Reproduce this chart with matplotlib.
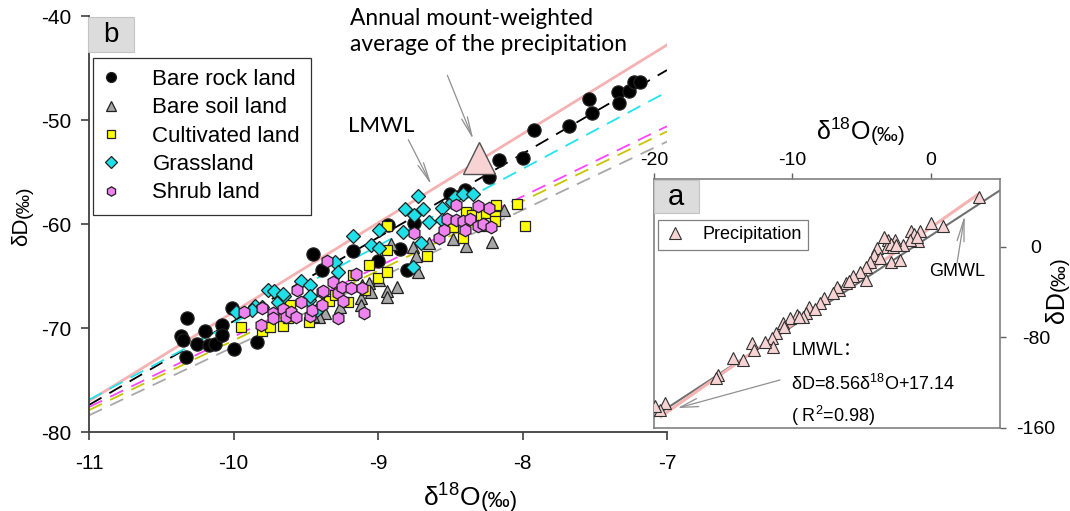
import matplotlib
matplotlib.use('Agg')
import matplotlib.pyplot as plt
from matplotlib.patches import Rectangle
import numpy as np

plt.rcParams['font.family'] = ['Liberation Sans', 'DejaVu Sans']
plt.rcParams['mathtext.fontset'] = 'custom'
plt.rcParams['mathtext.rm'] = 'Liberation Sans'
plt.rcParams['mathtext.it'] = 'Liberation Sans:italic'
plt.rcParams['mathtext.bf'] = 'Liberation Sans:bold'
plt.rcParams['axes.unicode_minus'] = False

# ---------------- data: panel b (soil water) ----------------
rock_x = [-10.32, -10.36, -10.35, -10.33, -10.25, -10.20, -10.17, -10.13, -10.08, -10.08,
          -10.00, -10.01, -9.84, -9.45, -9.39, -9.17, -9.00, -8.93, -8.75, -8.80,
          -8.85, -8.50, -8.40, -8.23, -8.16, -8.00, -7.92, -7.68, -7.54, -7.52,
          -7.34, -7.33, -7.26, -7.23, -7.19]
rock_y = [-69.0, -70.8, -71.2, -72.8, -71.5, -70.3, -71.6, -71.5, -69.7, -70.7,
          -72.0, -68.1, -71.3, -62.9, -64.4, -62.6, -63.6, -60.1, -59.9, -64.4,
          -62.4, -57.1, -56.7, -55.5, -53.8, -53.7, -51.0, -50.6, -48.0, -49.3,
          -47.3, -48.4, -47.2, -46.3, -46.3]

soil_x = [-8.91, -8.76, -8.74, -8.72, -8.65, -8.48, -8.39, -8.21, -8.13, -8.28,
          -9.11, -9.06, -8.99, -8.94, -8.94, -8.87, -9.12, -9.12, -9.26, -9.37,
          -9.41, -9.45, -9.05]
soil_y = [-61.9, -62.2, -63.1, -64.6, -61.8, -61.4, -62.1, -61.7, -58.7, -60.1,
          -65.9, -65.7, -65.4, -66.4, -67.0, -66.1, -67.1, -67.8, -68.0, -68.6,
          -68.9, -68.8, -66.5]

cult_x = [-9.95, -9.80, -9.75, -9.66, -9.62, -9.61, -9.48, -9.34, -9.30, -9.21,
          -9.17, -9.09, -9.06, -9.00, -8.94, -8.94, -8.94, -8.66, -8.48, -8.41,
          -8.39, -8.35, -8.29, -8.25, -8.19, -8.19, -8.18, -8.04, -7.98]
cult_y = [-69.9, -70.3, -69.9, -69.8, -69.0, -67.8, -69.4, -67.4, -66.8, -67.5,
          -64.9, -66.3, -63.9, -65.2, -62.5, -60.2, -64.6, -63.1, -60.3, -61.3,
          -58.8, -59.1, -59.2, -58.9, -59.2, -59.7, -58.2, -58.1, -60.2]

grass_x = [-9.98, -9.85, -9.80, -9.87, -9.76, -9.72, -9.69, -9.65, -9.53, -9.47,
           -9.48, -9.42, -9.30, -9.28, -9.17, -9.05, -8.99, -8.99, -8.83, -8.81,
           -8.75, -8.69, -8.72, -8.65, -8.70, -8.76, -8.56, -8.56, -8.49, -8.47,
           -8.41, -8.34, -9.66, -9.47]
grass_y = [-68.5, -67.9, -68.0, -68.3, -66.3, -66.4, -67.5, -66.9, -65.5, -65.9,
           -67.3, -68.3, -63.7, -64.6, -61.2, -62.0, -60.6, -62.3, -60.8, -58.6,
           -59.1, -58.6, -57.3, -59.8, -61.8, -64.1, -58.5, -59.6, -57.9, -57.4,
           -57.1, -57.1, -66.7, -66.9]

shrub_x = [-9.93, -9.80, -9.81, -9.73, -9.73, -9.66, -9.64, -9.60, -9.57, -9.56,
           -9.53, -9.47, -9.46, -9.39, -9.39, -9.38, -9.35, -9.31, -9.28, -9.28,
           -9.25, -9.24, -9.19, -9.15, -9.11, -9.10, -8.75, -8.58, -8.54, -8.52,
           -8.46, -8.46, -8.41, -8.40, -8.36, -8.31, -8.27, -8.23, -8.22, -8.31]
shrub_y = [-68.5, -68.1, -69.7, -68.6, -69.0, -68.2, -68.9, -68.5, -68.9, -66.3,
           -67.5, -68.8, -68.3, -66.5, -67.8, -66.4, -63.6, -65.6, -69.0, -66.6,
           -66.1, -67.4, -66.2, -64.8, -66.2, -68.6, -60.9, -61.3, -60.6, -59.5,
           -59.6, -58.2, -59.7, -60.6, -59.5, -60.2, -60.0, -58.5, -60.3, -58.3]

# annual amount-weighted precipitation mean
amw_x = [-8.30]
amw_y = [-53.7]

# regression lines (slope, intercept)
lmwl = (8.56, 17.14)
gmwl = (8.0, 10.0)
fit_rock = (8.05, 11.15)
fit_grass = (7.40, 4.50)
fit_shrub = (6.75, -3.35)
fit_cult = (6.70, -4.20)
fit_soil = (6.58, -6.02)

# ---------------- data: panel a (precipitation) ----------------
prec_x = [3.5, 0.85, 0.0, -0.8, -1.4, -1.2, -0.9, -1.5, -2.0, -2.6,
          -3.1, -3.2, -2.7, -3.9, -4.1, -3.7, -2.9, -2.2, -4.4, -4.7,
          -5.1, -4.7, -5.6, -6.1, -6.6, -6.8, -7.1, -7.7, -8.0, -8.8,
          -9.0, -9.2, -9.7, -10.2, -10.7, -10.6, -11.2, -11.5, -11.4, -12.0,
          -12.9, -12.8, -13.6, -14.3, -15.4, -15.5, -19.2, -19.6, -19.9,
          -2.9, -2.5, -3.4, -1.0, -5.9, -8.4, -9.5]
prec_y = [43.9, 18.6, 21.0, 14.4, 14.4, 11.2, 5.3, 6.2, 1.8, 6.2,
          6.2, 0.3, 0.3, -1.1, -7.0, -10.0, -13.0, -11.5, -13.0, -17.4,
          -21.8, -29.0, -26.0, -32.0, -38.0, -35.0, -41.0, -45.0, -50.0, -52.8,
          -58.7, -61.6, -60.0, -63.0, -67.5, -70.4, -76.0, -80.8, -88.0, -84.0,
          -85.0, -91.0, -100.0, -98.0, -113.0, -116.0, -138.0, -144.0, -141.0,
          3.0, 2.0, 8.5, 9.0, -30.0, -55.0, -62.0]

main_xticks = [-11, -10, -9, -8, -7]
main_yticks = [-80, -70, -60, -50, -40]
inset_xticks = [-20, -10, 0]
inset_yticks = [-160, -80, 0]

# ---------------- layout helpers ----------------
W, H = 1070, 511
def fx(px):
    return px / W
def fy(py):
    return 1 - py / H

fig = plt.figure(figsize=(W / 100, H / 100), dpi=100)

ax = fig.add_axes([fx(89), fy(432), (667 - 89) / W, (432 - 16) / H])
ax.set_xlim(-11, -7)
ax.set_ylim(-80, -40)
for s in ['top', 'right']:
    ax.spines[s].set_visible(False)
for s in ['left', 'bottom']:
    ax.spines[s].set_color('#404040')
    ax.spines[s].set_linewidth(1.3)
ax.set_xticks(main_xticks)
ax.set_yticks(main_yticks)
ax.tick_params(direction='out', length=6, width=1.2, color='#404040', labelsize=15)
ax.tick_params(axis='x', pad=10)
ax.tick_params(axis='y', pad=7)

xx = np.array([-11, -7])
ax.plot(xx, lmwl[0] * xx + lmwl[1], color='#f4b2b2', lw=2.0, zorder=2)
line_specs = [(fit_rock, 'black'), (fit_grass, '#22e3ee'), (fit_shrub, '#ff44ff'),
              (fit_cult, '#c8c400'), (fit_soil, '#a8a8a8')]
for (m, b), c in line_specs:
    ax.plot(xx, m * xx + b, color=c, lw=1.3, dashes=(8, 5), zorder=2)

ms_kw = dict(linestyle='none', markeredgecolor='#202020', markeredgewidth=0.9, zorder=3)
h1, = ax.plot(rock_x, rock_y, marker='o', ms=9.5, color='black', label='Bare rock land', **ms_kw)
h2, = ax.plot(soil_x, soil_y, marker='^', ms=9, color='#a6a6a6', label='Bare soil land', **ms_kw)
h3, = ax.plot(cult_x, cult_y, marker='s', ms=7.5, color='#ffff00', label='Cultivated land', **ms_kw)
h4, = ax.plot(grass_x, grass_y, marker='D', ms=7.5, color='#1fe0e8', label='Grassland', **ms_kw)
h5, = ax.plot(shrub_x, shrub_y, marker='h', ms=9, color='#ee82ee', label='Shrub land', **ms_kw)
ax.plot(amw_x, amw_y, marker='^', ms=23, linestyle='none', color='#f8d3d3',
        markeredgecolor='#505050', markeredgewidth=1.0, zorder=4)

leg = fig.legend(handles=[h1, h2, h3, h4, h5], loc='upper left',
                 bbox_to_anchor=(fx(92.5), fy(58)), bbox_transform=fig.transFigure,
                 fontsize=16, frameon=True, fancybox=False, framealpha=1,
                 edgecolor='#303030', borderpad=0.5, labelspacing=0.33,
                 handlelength=0.7, handletextpad=1.5, borderaxespad=0,
                 markerscale=0.75)
leg.get_frame().set_linewidth(0.9)

# "b" tag
fig.patches.append(Rectangle((fx(88), fy(52)), 46 / W, 35 / H, transform=fig.transFigure,
                             facecolor='#dcdcdc', edgecolor='#c4c4c4', lw=0.8, zorder=5))
fig.text(fx(111), fy(35), 'b', fontsize=20, ha='center', va='center', zorder=6)

# annotations panel b
fig.text(fx(350), fy(8), 'Annual mount-weighted\naverage of the precipitation',
         family='Lato', fontsize=16.4, ha='left', va='top', linespacing=1.3)
ax.annotate('', xy=(-8.34, -51.9), xytext=(-8.52, -45.7),
            arrowprops=dict(arrowstyle='->,head_length=1.4,head_width=0.22',
                            color='#909090', lw=0.9, shrinkA=0, shrinkB=0))
fig.text(fx(381), fy(126), 'LMWL', family='Lato', fontsize=16, ha='center', va='center')
ax.annotate('', xy=(-8.63, -56.25), xytext=(-8.79, -51.9),
            arrowprops=dict(arrowstyle='->,head_length=1.4,head_width=0.22',
                            color='#909090', lw=0.9, shrinkA=0, shrinkB=0))

# axis labels panel b
t = fig.text(fx(423), fy(507), 'δ$^{18}$O', fontsize=19, ha='left', va='baseline')
ax.annotate('(‰)', xy=(1, 0), xycoords=t, fontsize=16, ha='left', va='bottom')
ty = fig.text(fx(22), fy(246), 'δD', fontsize=16, rotation=90, ha='center', va='bottom')
ax.annotate('(‰)', xy=(1, 1), xycoords=ty, fontsize=14, rotation=90, ha='right', va='bottom')

# ---------------- inset panel a ----------------
ax2 = fig.add_axes([fx(654), fy(428), (1000 - 654) / W, (428 - 179) / H])
ax2.set_xlim(-20, 5)
ax2.set_ylim(-160, 60)
for s in ax2.spines.values():
    s.set_color('#808080')
    s.set_linewidth(1.2)
ax2.xaxis.tick_top()
ax2.yaxis.tick_right()
ax2.set_xticks(inset_xticks)
ax2.set_yticks(inset_yticks)
ax2.tick_params(direction='out', length=4, width=1.0, color='#606060', labelsize=14)
ax2.tick_params(axis='x', pad=3)
ax2.tick_params(axis='y', pad=22)
for lab in ax2.get_yticklabels():
    lab.set_ha('center')

gx = np.array([-20, 5])
ax2.plot(gx, gmwl[0] * gx + gmwl[1], color='#707070', lw=1.5, zorder=2)
lx = np.array([-19.5, 3.5])
ax2.plot(lx, lmwl[0] * lx + lmwl[1], color='#f4b2b2', lw=2.2, zorder=2)
hp, = ax2.plot(prec_x, prec_y, marker='^', ms=8, linestyle='none', color='#f8d3d3',
               markeredgecolor='#303030', markeredgewidth=0.8, zorder=3, label='Precipitation')

leg2 = ax2.legend(handles=[hp], loc='upper left', bbox_to_anchor=(fx(658), fy(220)),
                  bbox_transform=fig.transFigure, fontsize=13, frameon=True, fancybox=False,
                  framealpha=1, edgecolor='#808080', borderpad=0.35, handlelength=1.2,
                  handletextpad=0.9, borderaxespad=0)
leg2.get_frame().set_linewidth(0.9)

fig.patches.append(Rectangle((fx(654), fy(213)), 45 / W, 33 / H, transform=fig.transFigure,
                             facecolor='#dcdcdc', edgecolor='#c4c4c4', lw=0.8, zorder=5))
fig.text(fx(676), fy(197), 'a', fontsize=21, ha='center', va='center', zorder=6)

ax2.text(1.88, -22, 'GMWL', fontsize=13, ha='center', va='center')
ax2.annotate('', xy=(2.45, 28), xytext=(1.9, -14),
             arrowprops=dict(arrowstyle='->,head_length=1.6,head_width=0.25',
                             color='#909090', lw=0.9, shrinkA=0, shrinkB=0))
ax2.text(-10.05, -95.5, 'LMWL：', fontsize=13, ha='left', va='baseline',
         family=['Liberation Sans', 'Noto Sans CJK SC'])
ax2.text(-10.07, -126.4, 'δD=8.56δ$^{18}$O+17.14', fontsize=13, ha='left', va='baseline')
ax2.text(-10.07, -154.4, '( R$^{2}$=0.98)', fontsize=13, ha='left', va='baseline')
ax2.annotate('', xy=(-18.3, -142.4), xytext=(-10.9, -117.6),
             arrowprops=dict(arrowstyle='->,head_length=1.3,head_width=0.3',
                             color='#909090', lw=0.9, shrinkA=0, shrinkB=0))

t2 = fig.text(fx(816), fy(140), 'δ$^{18}$O', fontsize=18, ha='left', va='baseline')
ax2.annotate('(‰)', xy=(1, 0), xycoords=t2, fontsize=15, ha='left', va='bottom')
ty2 = fig.text(fx(1057), fy(323), 'δD', fontsize=18, rotation=90, ha='center', va='bottom')
ax2.annotate('(‰)', xy=(1, 1), xycoords=ty2, fontsize=15, rotation=90, ha='right', va='bottom')

fig.savefig('out.png', dpi=100)
